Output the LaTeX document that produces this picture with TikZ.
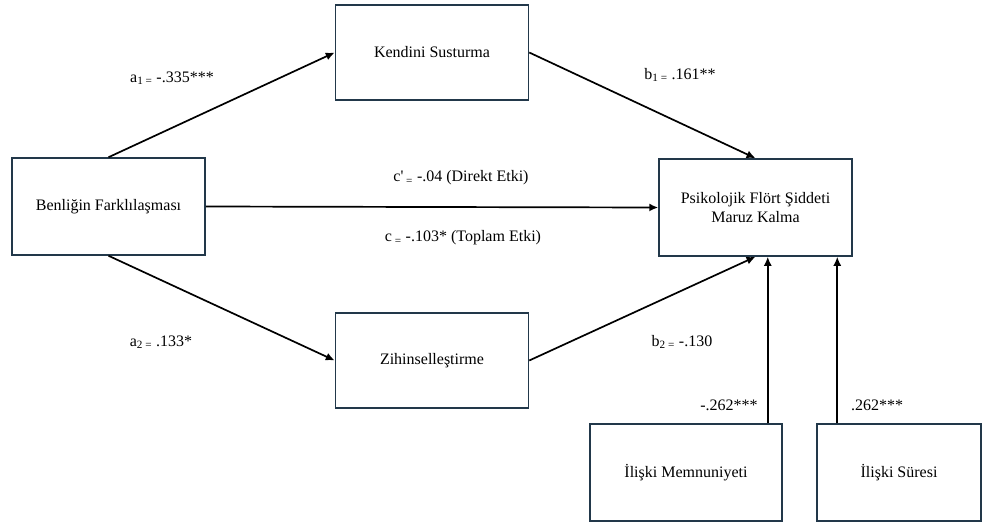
\documentclass[tikz,border=0pt]{standalone}
\usepackage{fontspec}
\setmainfont{Liberation Serif}
\usetikzlibrary{arrows.meta}
\definecolor{boxline}{HTML}{22384A}
\begin{document}
\begin{tikzpicture}[x=1pt, y=-1pt,
    every node/.style={font=\fontsize{16}{19}\selectfont},
    box/.style={rectangle, draw=boxline, line width=1.5pt, align=center, inner sep=0pt},
    arr/.style={line width=1.7pt, -{Latex[length=9pt, width=8pt]}}]
    \useasboundingbox (0,0) rectangle (998,527);
    % variables
    \node at (108.5, 206.5) (ben)[box, minimum width=193, minimum height=97] {Benliğin Farklılaşması};
    \node at (432, 52.5) (sus)[box, minimum width=193, minimum height=95] {Kendini Susturma};
    \node at (432, 360.5) (zih)[box, minimum width=193, minimum height=95] {Zihinselleştirme};
    \node at (755.5, 207.5) (psi)[box, minimum width=193, minimum height=97] {Psikolojik Flört Şiddeti\\Maruz Kalma};
    \node at (686, 472.5) (mem)[box, minimum width=192, minimum height=97] {İlişki Memnuniyeti};
    \node at (899, 472.5) (sur)[box, minimum width=164, minimum height=97] {İlişki Süresi};
    % paths
    \draw [arr] (ben.north) -- (sus.west);
    \draw [arr] (sus.east) -- (psi.north);
    \draw [arr] (ben.east) -- (psi.west);
    \draw [arr] (ben.south) -- (zih.west);
    \draw [arr] (zih.east) -- (psi.south);
    \draw [arr] ([xshift=-15pt]mem.north east) -- ([xshift=-15pt]mem.north east |- psi.south);
    \draw [arr] ([xshift=21pt]sur.north west) -- ([xshift=21pt]sur.north west |- psi.south);
    % coefficients
    \node at (172, 78) (la1) {a\textsubscript{1 =} -.335***};
    \node at (680, 75) (lb1) {b\textsubscript{1 =} .161**};
    \node at (461, 178) (lcd) {c\textquotesingle\textsubscript{ =} -.04 (Direkt Etki)};
    \node at (463, 238) (lct) {c\textsubscript{ =} -.103* (Toplam Etki)};
    \node at (161, 342) (la2) {a\textsubscript{2 =} .133*};
    \node at (682, 342) (lb2) {b\textsubscript{2 =} -.130};
    \node at (729, 405) (lmem) {-.262***};
    \node at (877, 405) (lsur) {.262***};
\end{tikzpicture}
\end{document}
